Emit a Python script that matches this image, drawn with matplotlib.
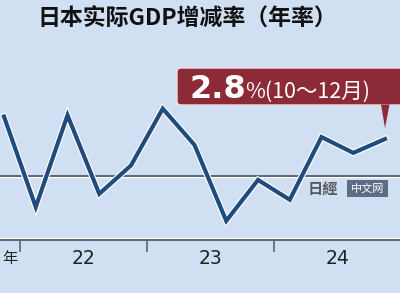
import matplotlib
matplotlib.use("Agg")
import matplotlib.pyplot as plt
import matplotlib.patheffects as pe
from matplotlib.patches import FancyBboxPatch, Polygon, Rectangle
import matplotlib.transforms as mtransforms

# ---- data ----
quarters = ["2021Q4", "2022Q1", "2022Q2", "2022Q3", "2022Q4",
            "2023Q1", "2023Q2", "2023Q3", "2023Q4",
            "2024Q1", "2024Q2", "2024Q3", "2024Q4"]
growth = [4.5, -2.35, 4.6, -1.35, 0.8, 5.1, 2.35, -3.4, -0.3, -1.8, 2.95, 1.75, 2.8]
year_labels = ["22", "23", "24"]
year_label_pos = [2.5, 6.5, 10.5]
year_tick_pos = [0.5, 4.5, 8.5]
title = "日本实际GDP增减率（年率）"
callout_big = "2.8"
callout_small = "%(10～12月)"

BG = "#d0dff1"
LINE = "#1f4b7d"
RED = "#8c2b37"
GREY = "#5f6673"

W, H = 400, 293
fig = plt.figure(figsize=(W / 100, H / 100), dpi=100, facecolor=BG)

def fx(px):
    return px / W

def fy(py):
    return 1 - py / H

ax = fig.add_axes([0, fy(240), 1, 240 / H])
ax.set_facecolor(BG)
x = list(range(len(growth)))
ax.set_xlim(-0.126, 12.472)
ax.set_ylim(-4.85, 13.33)

# zero line with white highlight below
offs = mtransforms.offset_copy(ax.transData, fig=fig, x=0, y=-1.3, units="dots")
ax.plot([-1, 14], [0, 0], color="white", lw=1.0, transform=offs, zorder=1)
ax.axhline(0, color=GREY, lw=1.4, zorder=2)

ax.plot(x, growth, color=LINE, lw=3.0, solid_joinstyle="miter", zorder=3,
        path_effects=[pe.Stroke(linewidth=4.6, foreground="white"), pe.Normal()])

for s in ["top", "left", "right"]:
    ax.spines[s].set_visible(False)
ax.spines["bottom"].set_color(GREY)
ax.spines["bottom"].set_linewidth(1.4)
offs2 = mtransforms.offset_copy(ax.transAxes, fig=fig, x=0, y=1.6, units="dots")
ax.plot([0, 1], [0, 0], color="white", lw=1.0, transform=offs2, clip_on=False, zorder=1)
ax.set_yticks([])
ax.set_xticks(year_tick_pos)
ax.set_xticklabels([])
ax.tick_params(axis="x", direction="out", length=8.5, width=1.2, color=GREY)

tb = mtransforms.blended_transform_factory(ax.transData, fig.transFigure)
for p, lab in zip(year_label_pos, year_labels):
    ax.text(p, fy(259), lab, transform=tb, ha="center", va="center",
            fontsize=13.5, color="#222222",
            family=["Liberation Sans Narrow", "DejaVu Sans"])
ax.text(0.42, fy(259), "年", transform=tb, ha="right", va="center",
        fontsize=11, color="#222222", family=["Noto Sans CJK SC", "DejaVu Sans"])

# title
fig.text(fx(37), fy(18), title, ha="left", va="center", fontsize=16.5,
         fontweight="bold", color="#111111",
         family=["Noto Sans CJK SC", "DejaVu Sans"])

# callout
box = FancyBboxPatch((fx(177), fy(105)), fx(230), (105 - 68) / H,
                     boxstyle="round,pad=0,rounding_size=0.012",
                     transform=fig.transFigure, facecolor=RED,
                     edgecolor="#f0dde0", lw=1.0, zorder=5)
fig.patches.append(box)
tri = Polygon([(fx(381), fy(104.5)), (fx(389.5), fy(104.5)), (fx(385), fy(128))],
              closed=True, transform=fig.transFigure, facecolor=RED,
              edgecolor="none", zorder=6)
fig.patches.append(tri)
fig.text(fx(189), fy(98), callout_big, ha="left", va="baseline", fontsize=23,
         fontweight="bold", color="white", family=["DejaVu Sans"], zorder=7)
fig.text(fx(245), fy(98), callout_small, ha="left", va="baseline", fontsize=15.5,
         fontweight="medium", color="white",
         family=["Noto Sans CJK SC", "DejaVu Sans"], zorder=7)

# watermark
wm = Rectangle((fx(347), fy(197)), fx(41), 17 / H, transform=fig.transFigure,
               facecolor="#5d6d86", edgecolor="none", zorder=8)
fig.patches.append(wm)
fig.text(fx(367.5), fy(188.5), "中文网", ha="center", va="center", fontsize=8,
         color="white", family=["Noto Sans CJK SC"], zorder=9)
fig.text(fx(323), fy(188.5), "日經", ha="center", va="center", fontsize=11,
         fontweight="bold", color="#3a3a3a", alpha=0.8,
         family=["Noto Sans CJK TC", "Noto Sans CJK SC"], zorder=9)

fig.savefig("out.png", dpi=100, facecolor=BG)
